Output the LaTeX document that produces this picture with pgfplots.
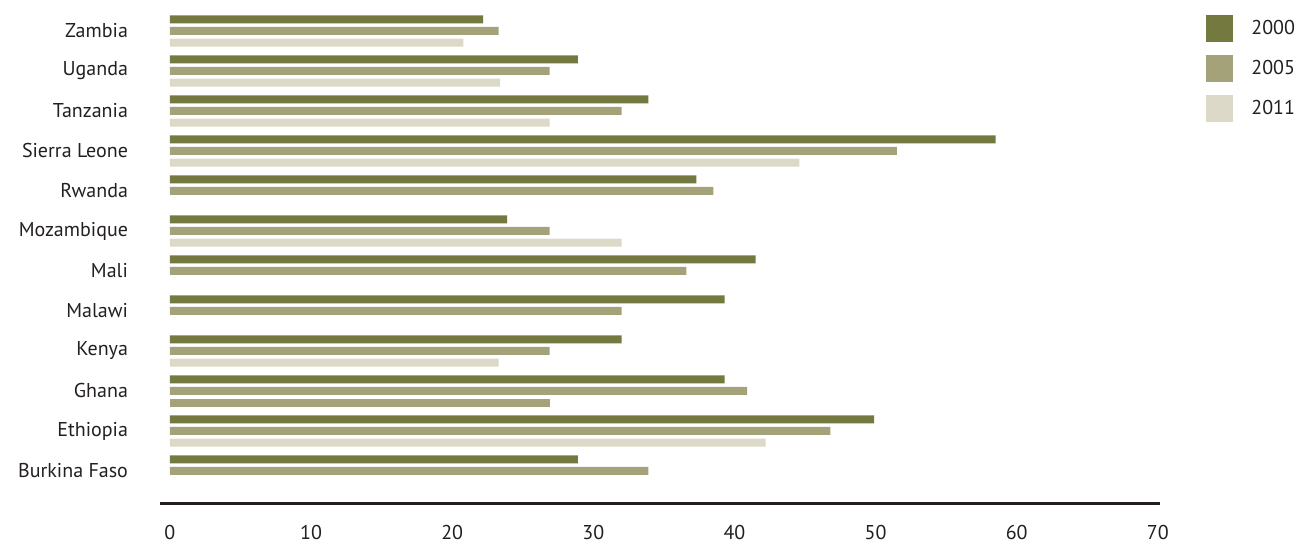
\documentclass[border=0pt]{standalone}
\usepackage{pgfplots}
\pgfplotsset{compat=1.18}
\usepackage{fontspec}
\setmainfont{PT Sans}
\definecolor{cA}{HTML}{747A3F}
\definecolor{cB}{HTML}{A4A278}
\definecolor{cC}{HTML}{DCD9C8}
\definecolor{txt}{HTML}{231F20}
\begin{document}
\fontsize{10}{12}\selectfont
\begin{tikzpicture}
\useasboundingbox (0,0) rectangle (648.5pt,272pt);
\begin{axis}[
  at={(80pt,20pt)}, anchor=south west,
  scale only axis, width=500pt, height=246.5pt,
  xmin=-0.7, xmax=70.15, ymin=-0.825, ymax=11.5,
  xbar, bar width=0.2,
  axis x line*=bottom, axis y line*=left,
  x axis line style={line width=1.5pt, color=txt, -},
  y axis line style={draw=none},
  xtick={0,10,...,70}, ytick={0,...,11},
  yticklabels={Burkina Faso,Ethiopia,Ghana,Kenya,Malawi,Mali,Mozambique,Rwanda,Sierra Leone,Tanzania,Uganda,Zambia},
  major tick length=0pt,
  tick label style={font=\fontsize{10}{12}\selectfont, text=txt},
  xticklabel style={yshift=-7.3pt},
  yticklabel style={xshift=-12.5pt},
  /pgf/number format/assume math mode=true,
  legend style={at={(1.046,0.992)}, anchor=north west, draw=none, fill=none,
    inner sep=0pt, row sep=6.5pt, font=\fontsize{10}{12}\selectfont, text=txt},
  legend cell align=left,
  legend image code/.code={\fill[#1] (0pt,-6.75pt) rectangle (13.5pt,6.75pt); \path (20.5pt,0pt);},
]
\addplot[fill=cA, draw=none, bar shift=0.29] coordinates {
 (28.9,0) (49.9,1) (39.3,2) (32.0,3) (39.3,4) (41.5,5) (23.9,6) (37.3,7) (58.5,8) (33.9,9) (28.9,10) (22.2,11)};
\addplot[fill=cB, draw=none, bar shift=0] coordinates {
 (33.9,0) (46.8,1) (40.9,2) (26.9,3) (32.0,4) (36.6,5) (26.9,6) (38.5,7) (51.5,8) (32.0,9) (26.9,10) (23.3,11)};
\addplot[fill=cC, draw=none, bar shift=-0.29] coordinates {
 (42.2,1) (23.3,3) (32.0,6) (44.6,8) (26.9,9) (23.4,10) (20.8,11)};
\addplot[fill=cB, draw=none, bar shift=-0.29, forget plot] coordinates {
 (26.9,2)};
\legend{2000,2005,2011}
\end{axis}
\end{tikzpicture}
\end{document}
